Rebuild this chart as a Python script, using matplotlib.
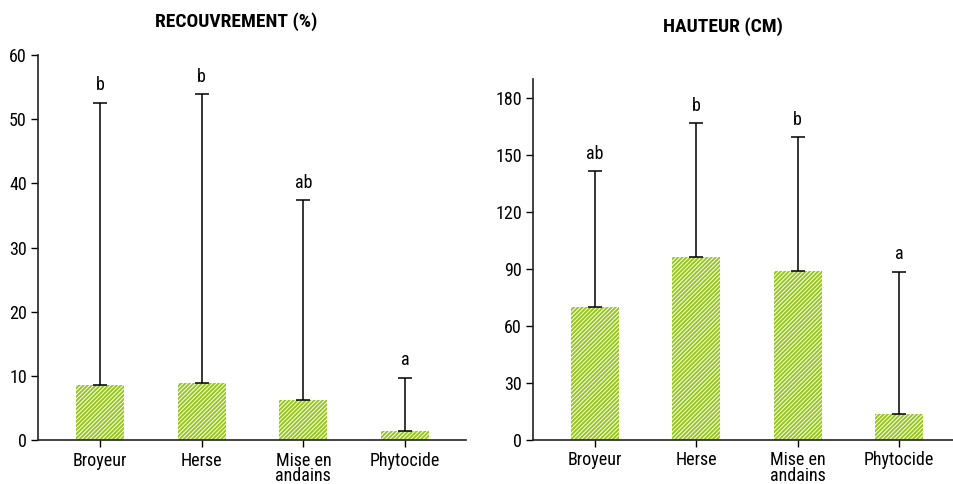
import matplotlib
matplotlib.use("Agg")
import matplotlib.pyplot as plt
from matplotlib import font_manager

names = {f.name for f in font_manager.fontManager.ttflist}
fam = [n for n in ["Liberation Sans Narrow", "Roboto Condensed", "DejaVu Sans Condensed", "DejaVu Sans"] if n in names]
plt.rcParams['font.family'] = fam
plt.rcParams['hatch.linewidth'] = 0.7

categories = ["Broyeur", "Herse", "Mise en\nandains", "Phytocide"]

cover_mean = [8.6, 8.95, 6.3, 1.5]
cover_upper = [52.6, 53.9, 37.4, 9.8]
cover_letters = ["b", "b", "ab", "a"]
cover_ticks = [0, 10, 20, 30, 40, 50, 60]

height_mean = [70.3, 96.3, 89.1, 13.8]
height_upper = [141.7, 166.8, 159.6, 88.7]
height_letters = ["ab", "b", "b", "a"]
height_ticks = [0, 30, 60, 90, 120, 150, 180]

GREEN = "#96C81A"

fig = plt.figure(figsize=(9.54, 4.84), dpi=100)
ax1 = fig.add_axes([0.0398, 0.0899, 0.4487, 0.7965])
ax2 = fig.add_axes([0.5587, 0.0903, 0.4403, 0.7459])

def draw(ax, means, upper, letters, ticks, ylim, title, title_y):
    x = list(range(len(categories)))
    ax.bar(x, means, width=0.475, color=GREEN, edgecolor="white", linewidth=0, hatch="////////", zorder=2)
    err = [u - m for u, m in zip(upper, means)]
    ax.errorbar(x, means, yerr=[[0]*len(means), err], fmt="none", ecolor="black",
                elinewidth=1.1, capsize=5, capthick=1.1, zorder=3)
    for xi, u, l in zip(x, upper, letters):
        ax.annotate(l, (xi, u), xytext=(0, 6), textcoords="offset points",
                    ha="center", va="bottom", fontsize=13)
    ax.set_xlim(-0.61, 3.6)
    ax.set_ylim(*ylim)
    ax.set_yticks(ticks)
    ax.set_xticks(x)
    ax.set_xticklabels(categories, fontsize=13, linespacing=0.85)
    ax.tick_params(axis="y", labelsize=13, length=5, width=1, pad=3)
    ax.tick_params(axis="x", length=5, width=1, pad=3)
    for s in ["top", "right"]:
        ax.spines[s].set_visible(False)
    for s in ["left", "bottom"]:
        ax.spines[s].set_linewidth(1.2)
        ax.spines[s].set_color("#222222")
    fig.text(title[1], title_y, title[0], ha="center", va="center", fontsize=14, fontweight="bold")

draw(ax1, cover_mean, cover_upper, cover_letters, cover_ticks, (0, 60),
     ("RECOUVREMENT (%)", 236/954), 1 - 22/484)
draw(ax2, height_mean, height_upper, height_letters, height_ticks, (0, 190),
     ("HAUTEUR (CM)", 723/954), 1 - 27/484)
ax2.set_xlim(-0.61, 3.53)

fig.savefig("out.png", dpi=100)
